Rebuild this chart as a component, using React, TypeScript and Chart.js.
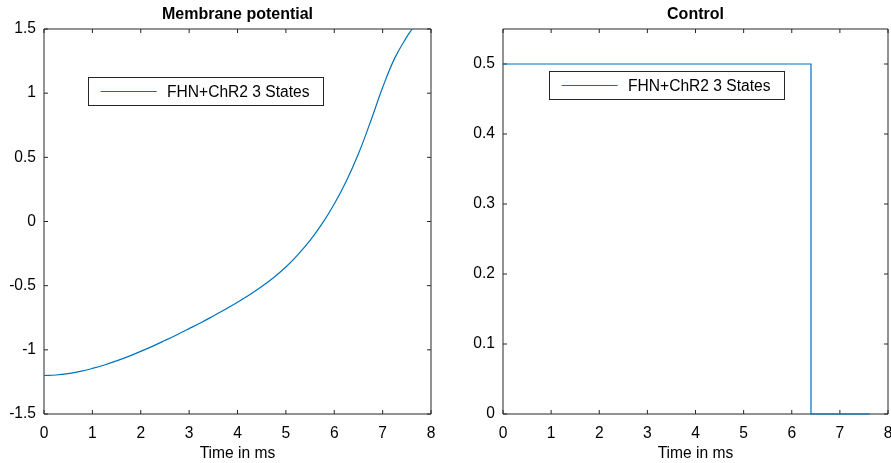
import React, { useEffect, useRef } from 'react';
import { Chart, registerables } from 'chart.js';

Chart.register(...registerables);

// ---- data ----
const membraneTime = [
  0, 0.25, 0.5, 0.75, 1, 1.25, 1.5, 1.75, 2, 2.25, 2.5, 2.75, 3, 3.25, 3.5, 3.75,
  4, 4.25, 4.5, 4.75, 5, 5.25, 5.5, 5.75, 6, 6.25, 6.5, 6.75, 7, 7.25, 7.5, 7.61,
];
const membraneValue = [
  -1.2, -1.196, -1.185, -1.168, -1.145, -1.118, -1.086, -1.051, -1.012, -0.971, -0.927, -0.882,
  -0.835, -0.787, -0.736, -0.684, -0.629, -0.571, -0.507, -0.436, -0.355, -0.258, -0.147, -0.017,
  0.136, 0.316, 0.528, 0.778, 1.044, 1.273, 1.439, 1.5,
];

const controlTime = [0, 6.4, 6.4, 7.62];
const controlValue = [0.5, 0.5, 0, 0];

const xTickValues = [0, 1, 2, 3, 4, 5, 6, 7, 8];
const xTickLabels = ['0', '1', '2', '3', '4', '5', '6', '7', '8'];
const membraneYTicks = [-1.5, -1, -0.5, 0, 0.5, 1, 1.5];
const membraneYTickLabels = ['-1.5', '-1', '-0.5', '0', '0.5', '1', '1.5'];
const controlYTicks = [0, 0.1, 0.2, 0.3, 0.4, 0.5];
const controlYTickLabels = ['0', '0.1', '0.2', '0.3', '0.4', '0.5'];

const seriesLabel = 'FHN+ChR2 3 States';
const membraneTitle = 'Membrane potential';
const controlTitle = 'Control';
const xAxisTitle = 'Time in ms';

// ---- styles ----
const FONT = '"Liberation Sans", Arial, Helvetica, sans-serif';
const LINE_COLOR = '#0072BD';
const AXIS_COLOR = '#262626';
const LABEL_SIZE = 15.6;

const framePlugin = {
  id: 'matlabFrame',
  beforeDatasetsDraw(chart: any) {
    const { ctx, chartArea: a, scales } = chart;
    const tl = 4;
    ctx.save();
    ctx.strokeStyle = AXIS_COLOR;
    ctx.lineWidth = 1;
    ctx.beginPath();
    ctx.rect(a.left, a.top, a.right - a.left, a.bottom - a.top);
    for (const t of scales.x.ticks) {
      const p = scales.x.getPixelForValue(t.value);
      ctx.moveTo(p, a.bottom);
      ctx.lineTo(p, a.bottom - tl);
      ctx.moveTo(p, a.top);
      ctx.lineTo(p, a.top + tl);
    }
    for (const t of scales.y.ticks) {
      const p = scales.y.getPixelForValue(t.value);
      ctx.moveTo(a.left, p);
      ctx.lineTo(a.left + tl, p);
      ctx.moveTo(a.right, p);
      ctx.lineTo(a.right - tl, p);
    }
    ctx.stroke();
    ctx.restore();
  },
};

const boxLegendPlugin = {
  id: 'boxLegend',
  afterDraw(chart: any, _args: any, opts: any) {
    const { ctx, chartArea: a } = chart;
    const ds = chart.data.datasets[0];
    ctx.save();
    ctx.font = `${LABEL_SIZE}px ${FONT}`;
    const tw = ctx.measureText(ds.label).width;
    const x0 = Math.round(a.left + opts.offsetX);
    const y0 = Math.round(a.top + opts.offsetY);
    const w = Math.round(79 + tw + 13);
    const h = 28;
    ctx.fillStyle = '#ffffff';
    ctx.fillRect(x0, y0, w, h);
    ctx.strokeStyle = AXIS_COLOR;
    ctx.lineWidth = 1;
    ctx.strokeRect(x0 + 0.5, y0 + 0.5, w, h);
    ctx.strokeStyle = ds.borderColor;
    ctx.lineWidth = 1;
    ctx.beginPath();
    ctx.moveTo(x0 + 12.7, y0 + 14.5);
    ctx.lineTo(x0 + 68.7, y0 + 14.5);
    ctx.stroke();
    ctx.fillStyle = '#000000';
    ctx.textBaseline = 'middle';
    ctx.textAlign = 'left';
    ctx.fillText(ds.label, x0 + 79, y0 + 15.5);
    ctx.restore();
  },
};

function makeConfig(
  xs: number[], ys: number[], title: string,
  yMin: number, yMax: number, yTicks: number[], yLabels: string[],
  yWidth: number, rightPad: number, legendX: number, legendY: number, smooth: boolean
): any {
  return {
    type: 'line',
    data: {
      datasets: [{
        label: seriesLabel,
        data: xs.map((x, i) => ({ x, y: ys[i] })),
        borderColor: LINE_COLOR,
        backgroundColor: LINE_COLOR,
        borderWidth: 1.2,
        pointRadius: 0,
        fill: false,
        tension: smooth ? 0.4 : 0,
        clip: 3,
      }],
    },
    options: {
      responsive: false,
      animation: false,
      devicePixelRatio: 1,
      layout: { padding: { left: 0, right: rightPad, top: 0, bottom: 0 } },
      plugins: {
        legend: { display: false },
        tooltip: { enabled: false },
        title: {
          display: true,
          text: title,
          fullSize: false,
          color: '#000',
          font: { family: FONT, size: 16, weight: 'bold' },
          padding: { top: 5.4, bottom: 4.4 },
        },
        boxLegend: { offsetX: legendX, offsetY: legendY },
      },
      scales: {
        x: {
          type: 'linear',
          min: 0,
          max: 8,
          grid: { display: false, drawTicks: false },
          border: { display: false },
          afterBuildTicks: (s: any) => { s.ticks = xTickValues.map((v) => ({ value: v })); },
          afterFit: (s: any) => { s.height = 49; s.paddingLeft = 0; s.paddingRight = 0; },
          ticks: {
            padding: 10,
            color: '#000',
            font: { family: FONT, size: LABEL_SIZE },
            maxRotation: 0,
            callback: (v: number) => xTickLabels[xTickValues.indexOf(v)] ?? '',
          },
          title: {
            display: true,
            text: xAxisTitle,
            color: '#000',
            font: { family: FONT, size: LABEL_SIZE },
            padding: { top: 0, bottom: 0 },
          },
        },
        y: {
          type: 'linear',
          min: yMin,
          max: yMax,
          grid: { display: false, drawTicks: false },
          border: { display: false },
          afterBuildTicks: (s: any) => { s.ticks = yTicks.map((v) => ({ value: v })); },
          afterFit: (s: any) => { s.width = yWidth; s.paddingTop = 0; s.paddingBottom = 0; },
          ticks: {
            padding: 8,
            color: '#000',
            font: { family: FONT, size: LABEL_SIZE },
            callback: (v: number) => {
              const i = yTicks.findIndex((t) => Math.abs(t - v) < 1e-9);
              return i >= 0 ? yLabels[i] : '';
            },
          },
        },
      },
    },
    plugins: [framePlugin, boxLegendPlugin],
  };
}

export default function App() {
  const leftRef = useRef<HTMLCanvasElement | null>(null);
  const rightRef = useRef<HTMLCanvasElement | null>(null);

  useEffect(() => {
    const left = new Chart(leftRef.current as HTMLCanvasElement, makeConfig(
      membraneTime, membraneValue, membraneTitle, -1.5, 1.5,
      membraneYTicks, membraneYTickLabels, 44, 19, 44, 48, true));
    const right = new Chart(rightRef.current as HTMLCanvasElement, makeConfig(
      controlTime, controlValue, controlTitle, 0, 0.55,
      controlYTicks, controlYTickLabels, 53, 3, 46, 42, false));
    return () => { left.destroy(); right.destroy(); };
  }, []);

  return (
    <div style={{ position: 'fixed', left: 0, top: 0, width: 891, height: 463, background: '#fff' }}>
      <canvas ref={leftRef} width={450} height={463}
        style={{ position: 'absolute', left: 0, top: 0, width: 450, height: 463 }} />
      <canvas ref={rightRef} width={441} height={463}
        style={{ position: 'absolute', left: 450, top: 0, width: 441, height: 463 }} />
    </div>
  );
}
